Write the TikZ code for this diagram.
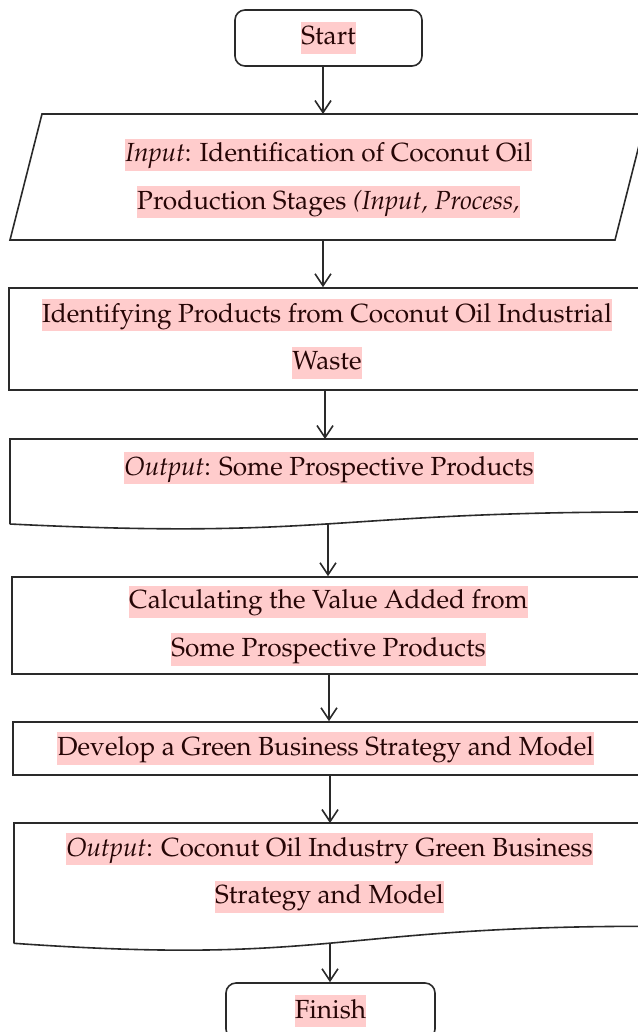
\documentclass[tikz,border=0pt]{standalone}
\usepackage[T1]{fontenc}
\renewcommand{\rmdefault}{ppl}
\usetikzlibrary{arrows.meta}
\definecolor{hlpink}{HTML}{FFCCCC}
\definecolor{inkline}{HTML}{2A2A2A}
\definecolor{inktext}{HTML}{260606}
\newcommand{\hl}[1]{{\setlength{\fboxsep}{0pt}\colorbox{hlpink}{\rule[-4.6pt]{0pt}{16.2pt}#1}}}

\begin{document}
\begin{tikzpicture}[x=0.5pt, y=-0.5pt,
    box/.style={draw=inkline, line width=0.8pt},
    txt/.style={font=\fontsize{13.1}{23.8}\selectfont, text=inktext, align=center, inner sep=0pt},
    flow/.style={draw=inkline, line width=0.8pt, -{Straight Barb[length=6pt, width=8pt]}}]
    \useasboundingbox (0,0) rectangle (637,1032);

    % Start
    \node[box, txt, rounded corners=5pt, minimum width=93.5pt, minimum height=28pt] (start) at (328.5,38) {\hl{Start}};

    % Input (parallelogramma)
    \draw[box] (42,114) -- (647,114) -- (615,240) -- (10,240) -- cycle;
    \coordinate (inp-n) at (323,114);
    \coordinate (inp-s) at (323,240);
    \node[txt] (inp) at (328.5,178.5) {
        \hl{\textit{Input}: Identification of Coconut Oil}\\
        \hl{Production Stages \textit{(Input, Process,}}
    };

    % Identificazione prodotti
    \node[box, txt, minimum width=318pt, minimum height=51pt] (ident) at (327,339) {
        \hl{Identifying Products from Coconut Oil Industrial}\\
        \hl{Waste}
    };

    % Output: prodotti (documento)
    \coordinate (prod-n) at (325,439);
    \draw[box] (10,524) -- (10,439) -- (646,439) -- (646,512)
        .. controls (328,512) and (328,539.7) .. (10,524) coordinate[pos=0.5] (prod-s);
    \node[txt] (prod) at (329,468) {\hl{\textit{Output}: Some Prospective Products}};

    % Valore aggiunto
    \node[box, txt, minimum width=316.5pt, minimum height=48.5pt] (calc) at (328.5,625.5) {
        \hl{Calculating the Value Added from}\\
        \hl{Some Prospective Products}
    };

    % Strategia
    \node[box, txt, minimum width=316pt, minimum height=26.5pt] (devel) at (329,748.5) {
        \hl{Develop a Green Business Strategy and Model}
    };

    % Output: strategia (documento)
    \coordinate (strat-n) at (330,823);
    \draw[box] (14,943.3) -- (14,823) -- (646,823) -- (646,926.3)
        .. controls (330,926.3) and (330,965.6) .. (14,943.3) coordinate[pos=0.5] (strat-s);
    \node[txt] (strat) at (329.5,873) {
        \hl{\textit{Output}: Coconut Oil Industry Green Business}\\
        \hl{Strategy and Model}
    };

    % Finish
    \node[box, txt, rounded corners=5pt, minimum width=104.5pt, minimum height=28pt] (finish) at (330.5,1011) {\hl{Finish}};

    % Frecce
    \draw[flow] (start.south -| inp-n) -- (inp-n);
    \draw[flow] (inp-s) -- (inp-s |- ident.north);
    \draw[flow] (ident.south -| prod-n) -- (prod-n);
    \draw[flow] (prod-s) -- (prod-s |- calc.north);
    \draw[flow] (calc.south -| devel.north) -- (devel.north);
    \draw[flow] (devel.south -| strat-n) -- (strat-n);
    \draw[flow] (strat-s) -- (strat-s |- finish.north);
\end{tikzpicture}
\end{document}
